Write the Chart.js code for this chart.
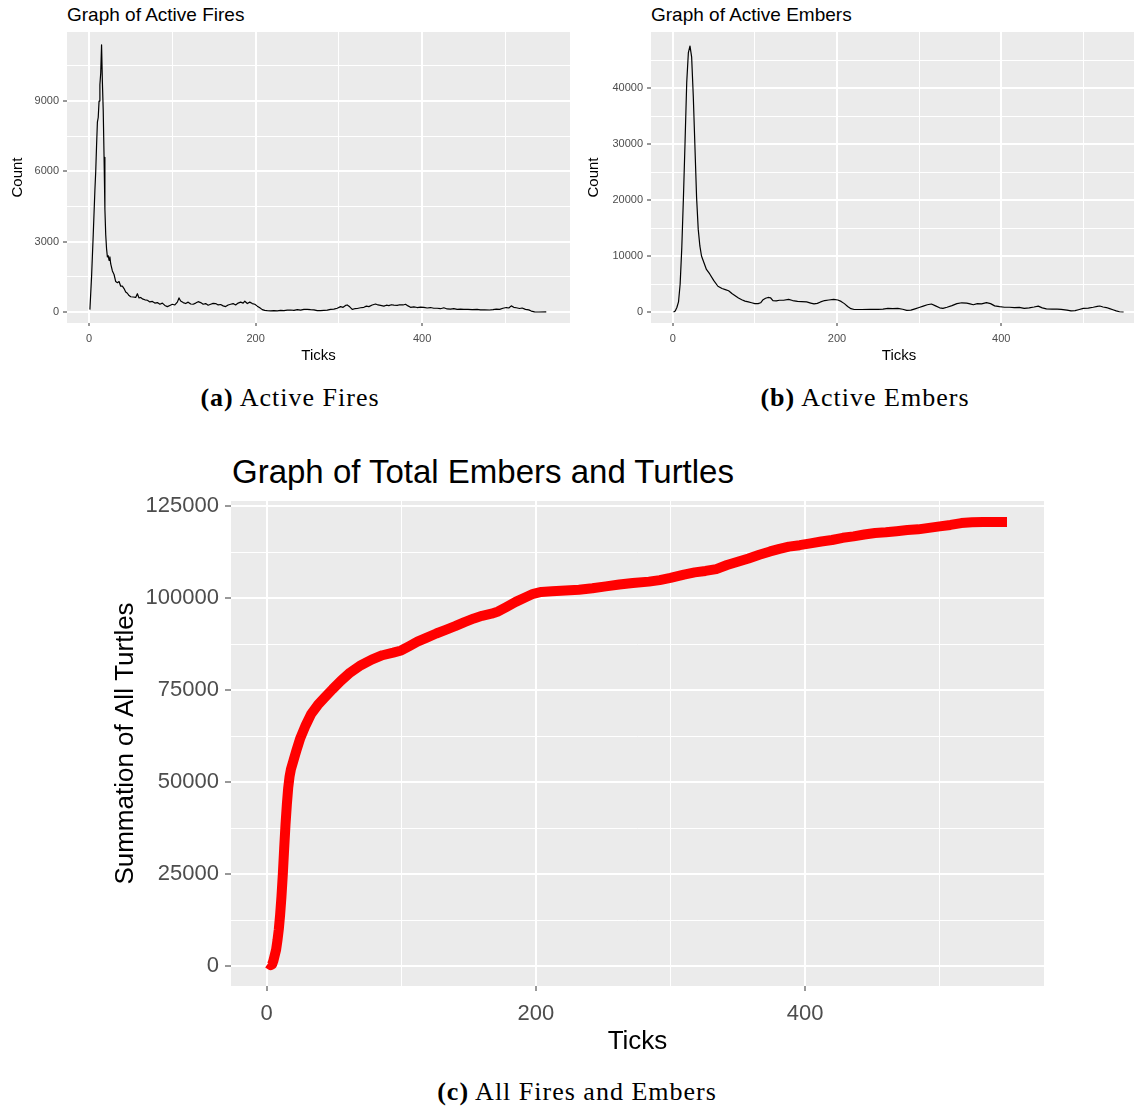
<!DOCTYPE html>
<html>
<head>
<meta charset="utf-8">
<script src="https://cdn.jsdelivr.net/npm/chart.js@4.4.1/dist/chart.umd.min.js"></script>
<style>
  html, body { margin:0; padding:0; background:#fff; width:1134px; height:1107px; overflow:hidden; }
  canvas { position:absolute; }
  .title { position:absolute; font-family:"Liberation Sans", Arial, sans-serif; color:#000; white-space:nowrap; line-height:1; }
  .cap { position:absolute; font-family:"Liberation Serif", "Times New Roman", serif; font-size:26px; letter-spacing:1px; white-space:nowrap; line-height:1; transform:translateX(-50%); color:#000; }
</style>
</head>
<body>
<div class="title" style="left:67px; top:5px; font-size:19px;">Graph of Active Fires</div>
<div class="title" style="left:651px; top:5px; font-size:19px;">Graph of Active Embers</div>
<canvas id="firesChart" width="575" height="372" style="left:0; top:0;"></canvas>
<canvas id="embersChart" width="567" height="372" style="left:580px; top:0;"></canvas>
<div class="cap" style="left:290px; top:385px;"><b>(a)</b> Active Fires</div>
<div class="cap" style="left:865px; top:385px;"><b>(b)</b> Active Embers</div>
<div class="title" style="left:232px; top:455px; font-size:33px;">Graph of Total Embers and Turtles</div>
<canvas id="totalChart" width="950" height="570" style="left:100px; top:495px;"></canvas>
<div class="cap" style="left:577px; top:1079px;"><b>(c)</b> All Fires and Embers</div>

<script>
// --- data ---
const fireTicks = [1,3,5,7,8,9,10,11,12,13,14,15,16,17,18,19,20,21,22,23,24,25,26,27,28,30,32,34,36,38,40,42,44,46,48,50,53,56,58,60,62,64,67,70,73,76,79,82,85,88,91,94,97,100,103,106,108,110,113,116,119,122,125,128,131,134,137,140,143,146,149,152,155,158,161,164,167,170,173,176,179,182,185,187,190,193,196,199,202,205,208,211,214,218,222,226,230,234,238,242,246,250,254,258,262,266,270,274,278,282,286,290,294,298,302,305,308,310,313,316,319,322,326,330,333,336,340,344,347,350,354,357,360,363,366,370,373,377,380,383,386,390,394,398,402,406,410,414,418,422,426,430,434,438,442,446,450,455,460,466,470,475,481,485,489,493,497,501,504,507,510,513,517,520,524,528,531,535,540,549];
const fireCounts = [100,1500,3300,5200,6000,7100,8100,8300,9000,9700,10200,11400,9800,8600,6600,4400,3300,2700,2350,2400,2200,2350,2050,1900,1750,1600,1300,1250,1300,1100,1100,1000,850,800,700,650,640,620,780,600,620,560,520,500,430,450,380,400,330,380,280,230,280,330,300,420,600,470,400,360,420,340,330,380,440,400,330,360,290,330,370,360,300,320,260,230,300,330,360,300,380,420,380,460,360,420,360,330,250,180,100,70,60,50,60,50,70,60,80,85,70,100,80,110,115,100,90,55,60,70,80,110,120,160,230,200,280,300,220,110,140,150,180,200,250,230,300,340,300,280,250,290,270,310,290,280,310,300,330,260,200,220,190,210,200,170,190,160,160,140,180,130,120,140,110,120,115,110,100,110,90,95,85,100,120,110,160,190,170,260,200,180,150,170,110,90,40,5,0,5];

const emberTicks = [1,3,5,7,9,11,13,15,17,19,21,23,25,27,29,31,33,35,38,41,45,50,55,60,64,68,72,76,80,84,88,92,96,100,104,107,110,113,116,119,122,126,130,135,141,146,152,157,163,168,172,176,180,185,190,196,201,205,209,213,217,221,230,240,250,256,262,268,274,280,285,290,295,300,305,310,315,320,325,329,334,340,346,352,358,362,366,371,376,382,387,392,398,404,410,416,422,428,434,440,445,450,455,462,468,473,480,485,490,495,500,506,512,517,520,524,528,532,536,540,544,549];
const emberCounts = [0,200,800,1800,5000,11500,20500,30500,41000,46300,47500,45500,38500,29500,20500,14800,11800,10000,8800,7600,6800,5600,4600,4200,4000,3800,3300,2900,2500,2200,1950,1800,1650,1500,1500,1650,2200,2450,2600,2550,2050,2000,2100,2100,2250,2050,1900,1850,1800,1600,1450,1550,1800,2050,2150,2250,2150,1900,1500,1000,600,450,450,460,460,520,650,600,660,500,300,330,560,800,1050,1300,1430,1100,750,650,850,1150,1500,1650,1600,1450,1300,1500,1450,1680,1500,1100,950,850,850,800,820,650,750,900,1050,750,550,500,520,480,350,200,250,450,650,700,850,1000,1070,900,800,600,400,200,50,0];

const totalTicks = [1,3,4,5,6,7,8,9,10,11,12,13,14,15,16,17,18,20,22,25,29,33,38,43,49,55,62,70,78,86,94,100,106,112,119,126,133,140,147,154,160,167,172,178,185,192,198,204,212,222,232,242,252,262,272,284,292,300,310,318,326,334,342,350,358,366,374,381,388,396,404,412,420,428,436,444,452,460,468,476,484,492,500,508,516,524,532,540,550];
const totalSums = [800,300,500,1500,3000,4500,7000,10000,14000,19000,25000,32000,38500,44000,48500,51500,53500,56000,58500,62000,65500,68500,71000,73000,75300,77500,79800,81800,83300,84500,85200,85800,87000,88200,89300,90400,91400,92400,93500,94500,95200,95800,96400,97600,99000,100200,101200,101700,101900,102100,102300,102700,103200,103700,104100,104500,104900,105500,106400,107000,107400,107900,109000,109900,110800,111800,112700,113400,114000,114400,114900,115400,115800,116400,116800,117300,117700,117900,118200,118500,118700,119100,119500,119900,120400,120600,120700,120700,120700];

// tick labels (major) and minor grid positions
const xMajor = [0, 200, 400];
const xMinor = [100, 300, 500];
const fireYMajor = [0, 3000, 6000, 9000];
const fireYMinor = [1500, 4500, 7500, 10500];
const emberYMajor = [0, 10000, 20000, 30000, 40000];
const emberYMinor = [5000, 15000, 25000, 35000, 45000];
const totalYMajor = [0, 25000, 50000, 75000, 100000, 125000];
const totalYMinor = [12500, 37500, 62500, 87500, 112500];

const FONT = '"Liberation Sans", Arial, sans-serif';

const panelBg = {
  id: 'panelBg',
  beforeDraw(chart) {
    const {ctx, chartArea: a} = chart;
    ctx.save();
    ctx.fillStyle = '#EBEBEB';
    ctx.fillRect(a.left, a.top, a.right - a.left, a.bottom - a.top);
    ctx.restore();
  }
};

function ggScale(cfg) {
  const all = cfg.major.concat(cfg.minor).sort((a, b) => a - b);
  const isMajor = v => cfg.major.includes(v);
  return {
    type: 'linear',
    position: cfg.position,
    min: cfg.min,
    max: cfg.max,
    afterBuildTicks: axis => { axis.ticks = all.map(v => ({value: v})); },
    afterFit: s => {
      if (cfg.position === 'left') s.width = cfg.size; else s.height = cfg.size;
      // keep the panel exactly where the layout puts it
      s.paddingTop = 0; s.paddingBottom = 0; s.paddingLeft = 0; s.paddingRight = 0;
    },
    border: {display: false},
    grid: {
      color: '#FFFFFF',
      lineWidth: c => (c.tick && isMajor(c.tick.value)) ? 2 : 1,
      tickColor: c => (c.tick && isMajor(c.tick.value)) ? '#333333' : 'rgba(0,0,0,0)',
      tickWidth: 1,
      tickLength: cfg.tickLen
    },
    ticks: {
      autoSkip: false, maxRotation: 0, padding: cfg.pad,
      color: '#4D4D4D',
      font: {family: FONT, size: cfg.fontSize},
      callback: v => isMajor(v) ? String(v) : ''
    },
    title: {
      display: true, text: cfg.title, color: '#000',
      font: {family: FONT, size: cfg.titleSize},
      padding: cfg.titlePad
    }
  };
}

function makeChart(id, xs, ys, line, xCfg, yCfg, padding) {
  return new Chart(document.getElementById(id), {
    type: 'line',
    data: {datasets: [{
      data: xs.map((x, i) => ({x: x, y: ys[i]})),
      borderColor: line.color, borderWidth: line.width,
      pointRadius: 0, tension: 0, fill: false,
      borderCapStyle: 'butt', borderJoinStyle: 'round'
    }]},
    options: {
      responsive: false, animation: false,
      layout: {padding: padding},
      plugins: {legend: {display: false}, tooltip: {enabled: false}},
      scales: {x: ggScale(xCfg), y: ggScale(yCfg)}
    },
    plugins: [panelBg]
  });
}

makeChart('firesChart', fireTicks, fireCounts, {color: '#000', width: 1.2},
  {position: 'bottom', min: -26.5, max: 577.5, major: xMajor, minor: xMinor, size: 49, tickLen: 3, pad: 6, fontSize: 11, title: 'Ticks', titleSize: 15, titlePad: {top: 0, bottom: 7}},
  {position: 'left', min: -470, max: 11950, major: fireYMajor, minor: fireYMinor, size: 67, tickLen: 4, pad: 4, fontSize: 11, title: 'Count', titleSize: 15, titlePad: {top: 9, bottom: 0}},
  {top: 32, right: 5, left: 0, bottom: 0});

makeChart('embersChart', emberTicks, emberCounts, {color: '#000', width: 1.2},
  {position: 'bottom', min: -26.5, max: 577.5, major: xMajor, minor: xMinor, size: 49, tickLen: 3, pad: 6, fontSize: 11, title: 'Ticks', titleSize: 15, titlePad: {top: 0, bottom: 7}},
  {position: 'left', min: -1960, max: 50000, major: emberYMajor, minor: emberYMinor, size: 71, tickLen: 4, pad: 4, fontSize: 11, title: 'Count', titleSize: 15, titlePad: {top: 5, bottom: 0}},
  {top: 32, right: 0, left: 0, bottom: 0});

makeChart('totalChart', totalTicks, totalSums, {color: '#FF0000', width: 10},
  {position: 'bottom', min: -26.5, max: 577.5, major: xMajor, minor: xMinor, size: 79, tickLen: 5, pad: 10, fontSize: 22, title: 'Ticks', titleSize: 26, titlePad: {top: 0, bottom: 8}},
  {position: 'left', min: -5350, max: 126400, major: totalYMajor, minor: totalYMinor, size: 131, tickLen: 6, pad: 6, fontSize: 22, title: 'Summation of All Turtles', titleSize: 26, titlePad: {top: 10, bottom: 0}},
  {top: 6, right: 6, left: 0, bottom: 0});
</script>
</body>
</html>
